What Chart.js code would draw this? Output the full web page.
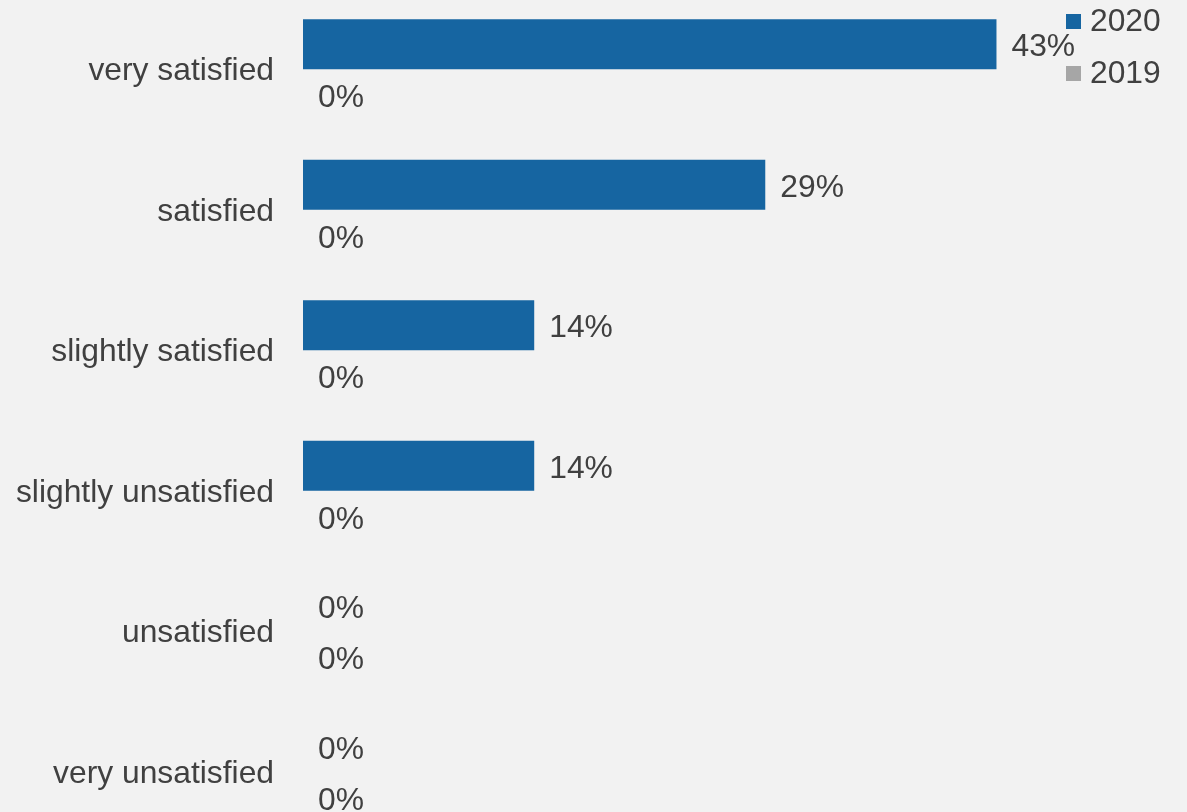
<!DOCTYPE html>
<html>
<head>
<meta charset="utf-8">
<title>Satisfaction</title>
<script src="https://cdn.jsdelivr.net/npm/chart.js@4/dist/chart.umd.min.js"></script>
<style>
  html, body { margin: 0; padding: 0; background: #f2f2f2; overflow: hidden; }
  #chart { position: absolute; left: 0; top: -1px; }
</style>
</head>
<body>
<canvas id="chart" width="1187" height="843"></canvas>
<script>
const categories = [
  "very satisfied",
  "satisfied",
  "slightly satisfied",
  "slightly unsatisfied",
  "unsatisfied",
  "very unsatisfied"
];
// share of answers per year, in percent
const values2020 = [42.86, 28.57, 14.29, 14.29, 0, 0];
const values2019 = [0, 0, 0, 0, 0, 0];
const seriesNames = ["2020", "2019"];

const textColor = "#404040";
const fontFamily = "'Liberation Sans', Arial, sans-serif";
const fontSize = 31.8;

// value labels next to the end of every bar
const barLabels = {
  id: "barLabels",
  afterDatasetsDraw(chart) {
    const ctx = chart.ctx;
    ctx.save();
    ctx.font = fontSize + "px " + fontFamily;
    ctx.fillStyle = textColor;
    ctx.textAlign = "left";
    ctx.textBaseline = "middle";
    chart.data.datasets.forEach((ds, i) => {
      chart.getDatasetMeta(i).data.forEach((bar, j) => {
        ctx.fillText(Math.round(ds.data[j]) + "%", bar.x + 15, bar.y + 3 + i);
      });
    });
    ctx.restore();
  }
};

// small legend in the top right corner
const cornerLegend = {
  id: "cornerLegend",
  afterDraw(chart) {
    const ctx = chart.ctx;
    ctx.save();
    ctx.font = fontSize + "px " + fontFamily;
    ctx.textAlign = "left";
    ctx.textBaseline = "middle";
    chart.data.datasets.forEach((ds, i) => {
      const y = 22 + i * 52;
      ctx.fillStyle = ds.backgroundColor;
      ctx.fillRect(1066, y - 7, 15, 15);
      ctx.fillStyle = textColor;
      ctx.fillText(ds.label, 1090, y + 1);
    });
    ctx.restore();
  }
};

new Chart(document.getElementById("chart"), {
  type: "bar",
  data: {
    labels: categories,
    datasets: [
      { label: seriesNames[0], data: values2020, backgroundColor: "#1665a1" },
      { label: seriesNames[1], data: values2019, backgroundColor: "#a6a6a6" }
    ]
  },
  options: {
    indexAxis: "y",
    responsive: false,
    devicePixelRatio: 1,
    animation: false,
    layout: { padding: { left: 0, right: 75, top: 0, bottom: 0 } },
    datasets: {
      bar: { categoryPercentage: 0.712, barPercentage: 1 }
    },
    plugins: {
      legend: { display: false },
      tooltip: { enabled: false }
    },
    scales: {
      x: {
        display: false,
        min: 0,
        max: 50
      },
      y: {
        grid: { display: false, drawTicks: false },
        border: { display: false },
        afterFit(scale) {
          scale.width = 303;
          scale.paddingTop = 0;
          scale.paddingBottom = 0;
        },
        ticks: {
          padding: 29,
          labelOffset: 2,
          color: textColor,
          font: { family: fontFamily, size: fontSize }
        }
      }
    }
  },
  plugins: [barLabels, cornerLegend]
});
</script>
</body>
</html>
